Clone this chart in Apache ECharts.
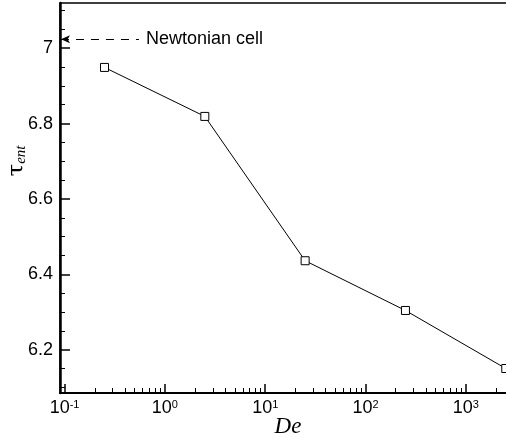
<!DOCTYPE html>
<html>
<head>
<meta charset="utf-8">
<script src="https://cdn.jsdelivr.net/npm/echarts@6/dist/echarts.min.js"></script>
<style>
  html, body { margin: 0; padding: 0; background: #fff; }
  #chart { width: 506px; height: 442px; }
</style>
</head>
<body>
<div id="chart"></div>
<script>
// data
var deValues = [0.25, 2.5, 25, 250, 2500];
var tauValues = [6.949, 6.819, 6.436, 6.304, 6.150];
var newtonianLevel = 7.024;
var newtonianFrom = 0.092;
var newtonianTo = 0.551;

// tick positions
var xMajorTicks = [0.1, 1, 10, 100, 1000];
var xMinorTicks = [];
for (var d = 0; d < xMajorTicks.length; d++) {
  for (var k = 2; k <= 9; k++) {
    xMinorTicks.push(+(xMajorTicks[d] * k).toPrecision(3));
  }
}
var yMajorTicks = [6.2, 6.4, 6.6, 6.8, 7.0];
var yMinorTicks = [6.1, 6.15, 6.25, 6.3, 6.35, 6.45, 6.5, 6.55, 6.65, 6.7, 6.75, 6.85, 6.9, 6.95, 7.05, 7.1];

var xMin = 0.09, xMax = 3162;
var yMin = 6.085, yMax = 7.12;

var font = 'Liberation Sans, Arial, sans-serif';

var myChart = echarts.init(document.getElementById('chart'));

var option = {
  animation: false,
  backgroundColor: '#fff',
  grid: {
    left: 60, top: 3, right: -10, bottom: 49,
    outerBoundsMode: 'none', containLabel: false,
    show: true, borderColor: '#000', borderWidth: 1.5, backgroundColor: 'transparent'
  },
  xAxis: [
    {
      type: 'log', logBase: 10, min: xMin, max: xMax,
      name: 'De', nameLocation: 'middle', nameGap: 22, nameMoveOverlap: false,
      nameTextStyle: { fontFamily: 'Liberation Serif, Times New Roman, serif', fontStyle: 'italic', fontSize: 23, color: '#000' },
      axisLine: { show: true, lineStyle: { color: '#000', width: 2 } },
      axisTick: { show: true, inside: true, length: 9, customValues: xMajorTicks, lineStyle: { color: '#000', width: 1.5 } },
      axisLabel: {
        show: true, margin: 6, customValues: xMajorTicks,
        formatter: function (v) {
          return '{b|10}{s|' + Math.round(Math.log10(v)) + '}';
        },
        rich: {
          b: { fontFamily: font, fontSize: 18, lineHeight: 18, color: '#000' },
          s: { fontFamily: font, fontSize: 11, lineHeight: 11, verticalAlign: 'top', color: '#000' }
        }
      },
      splitLine: { show: false }
    },
    {
      type: 'log', logBase: 10, min: xMin, max: xMax, position: 'bottom',
      axisLine: { show: false },
      axisTick: { show: true, inside: true, length: 5, customValues: xMinorTicks, lineStyle: { color: '#000', width: 1 } },
      axisLabel: { show: false },
      splitLine: { show: false }
    }
  ],
  yAxis: [
    {
      type: 'value', min: yMin, max: yMax,
      axisLine: { show: true, lineStyle: { color: '#000', width: 2.5 } },
      axisTick: { show: true, inside: true, length: 10, customValues: yMajorTicks, lineStyle: { color: '#000', width: 1.5 } },
      axisLabel: {
        show: true, margin: 7, customValues: yMajorTicks,
        fontFamily: font, fontSize: 18, color: '#000',
        formatter: function (v) { return String(+v.toFixed(1)); }
      },
      splitLine: { show: false }
    },
    {
      type: 'value', min: yMin, max: yMax, position: 'left',
      axisLine: { show: false },
      axisTick: { show: true, inside: true, length: 5, customValues: yMinorTicks, lineStyle: { color: '#000', width: 1 } },
      axisLabel: { show: false },
      splitLine: { show: false }
    }
  ],
  graphic: [
    {
      type: 'text', x: 17, y: 161, rotation: Math.PI / 2,
      style: {
        text: '{t|τ}{e|ent}',
        align: 'center', verticalAlign: 'middle',
        rich: {
          t: { fontFamily: 'DejaVu Serif, serif', fontSize: 23, lineHeight: 24, fill: '#000' },
          e: { fontFamily: 'Liberation Serif, serif', fontStyle: 'italic', fontSize: 15, lineHeight: 15, verticalAlign: 'bottom', fill: '#000' }
        }
      }
    }
  ],
  series: [
    {
      type: 'line',
      xAxisIndex: 0, yAxisIndex: 0,
      data: deValues.map(function (x, i) { return [x, tauValues[i]]; }),
      symbol: 'rect', symbolSize: 8,
      lineStyle: { color: '#000', width: 1 },
      itemStyle: { color: '#fff', borderColor: '#000', borderWidth: 1 },
      emphasis: { disabled: true },
      markLine: {
        silent: true,
        symbol: ['arrow', 'none'],
        symbolSize: [6, 9],
        lineStyle: { color: '#000', width: 1, type: [8, 7] },
        label: {
          show: true, position: 'end', distance: 7,
          formatter: 'Newtonian cell',
          fontFamily: font, fontSize: 18, color: '#000'
        },
        data: [
          [
            { coord: [newtonianFrom, newtonianLevel] },
            { coord: [newtonianTo, newtonianLevel] }
          ]
        ]
      }
    }
  ]
};

myChart.setOption(option);
</script>
</body>
</html>
